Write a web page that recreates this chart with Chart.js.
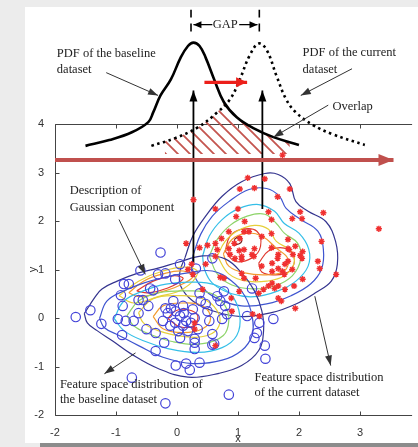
<!DOCTYPE html>
<html>
<head>
<meta charset="utf-8">
<script src="https://cdn.jsdelivr.net/npm/chart.js@4.4.1/dist/chart.umd.min.js"></script>
<style>
  html, body { margin: 0; padding: 0; background: #ececec; }
  #wrap { width: 418px; height: 447px; position: relative; }
</style>
</head>
<body>
<div id="wrap"><canvas id="chart"></canvas></div>
<script>
"use strict";

// axis ticks
const xTicks = [-2, -1, 0, 1, 2, 3];
const yTicks = [-2, -1, 0, 1, 2, 3, 4];

// samples of the baseline dataset (blue circles)
const baselinePoints = [
  [-1.66, 0.02], [-1.42, 0.16], [-1.24, -0.12], [-0.97, -0.02], [-0.90, -0.35], [-0.84, -0.06], [-0.87, 0.70], [-0.79, 0.70],
  [-0.92, 0.47], [-0.89, 0.25], [-0.63, 0.37], [-0.56, 0.37], [-0.63, 0.10], [-0.44, 0.61], [-0.39, 0.57], [-0.50, -0.23],
  [-0.35, -0.31], [-0.35, -0.68], [-0.21, -0.51], [-0.19, 0.20], [-0.10, 0.20], [-0.15, 0.10], [-0.02, -0.98], [0.21, -1.07],
  [0.37, -0.92], [-0.74, -1.23], [-0.19, -1.76], [0.29, -0.51], [0.29, -0.64], [-0.27, 1.35], [-0.60, 0.98], [-0.31, 0.90],
  [-0.19, 0.92], [-0.03, 0.80], [0.05, 1.11], [0.31, 1.02], [0.58, 1.23], [0.77, 0.55], [0.66, 0.45], [0.71, 0.35],
  [0.79, 0.25], [0.39, 0.35], [0.47, 0.29], [0.37, 0.51], [0.26, 0.18], [-0.02, 0.14], [0.05, 0.04], [-0.03, -0.10],
  [0.10, -0.16], [0.29, 0.00], [0.34, -0.23], [0.58, -0.33], [0.53, -0.06], [0.74, -0.02], [0.82, 0.08], [1.23, 0.61],
  [1.15, 0.04], [1.35, -0.10], [1.58, -0.02], [1.31, -0.31], [1.27, -0.41], [1.44, -0.57], [1.45, -0.84], [0.61, -0.53],
  [0.29, -0.43], [0.05, -0.41], [0.85, -1.58], [0.58, -0.55], [0.15, -0.94], [0.15, -0.06], [0.02, -0.27], [0.18, -0.27],
  [-0.06, 0.35], [0.10, 0.25], [-0.23, -0.06], [-0.11, -0.16], [0.23, -0.10], [0.11, 0.10], [0.50, 0.14], [-0.47, 0.25],
  [-0.71, -0.06]
];

// samples of the current dataset (red stars)
const currentPoints = [
  [0.27, 2.44], [1.16, 2.89], [1.44, 2.87], [1.03, 2.66], [1.27, 2.68], [1.65, 2.50], [1.85, 2.66], [0.63, 2.25],
  [1.00, 2.25], [1.50, 2.19], [1.55, 2.03], [0.97, 2.09], [1.11, 1.99], [0.85, 1.78], [1.10, 1.78], [1.18, 1.78],
  [1.03, 1.64], [1.39, 1.68], [1.55, 1.74], [1.82, 1.62], [0.15, 1.54], [0.37, 1.45], [0.50, 1.50], [0.63, 1.54],
  [0.66, 1.41], [0.63, 1.27], [0.85, 1.43], [1.02, 1.39], [1.10, 1.41], [0.94, 1.54], [1.27, 1.43], [1.55, 1.45],
  [1.66, 1.31], [1.82, 1.43], [1.23, 1.31], [1.06, 1.27], [1.73, 3.36], [2.02, 2.19], [2.40, 2.17], [1.89, 2.05],
  [2.05, 2.05], [3.31, 1.84], [2.37, 1.58], [0.73, 1.64], [1.26, 1.27], [1.56, 1.13], [1.65, 1.23], [2.05, 1.23],
  [2.31, 1.17], [1.77, 1.11], [1.73, 0.96], [1.56, 0.96], [2.34, 1.02], [2.61, 0.90], [2.06, 1.37], [1.94, 1.48],
  [1.84, 1.41], [1.90, 1.31], [2.02, 1.29], [1.82, 1.17], [1.89, 1.00], [2.06, 0.80], [1.92, 0.66], [1.94, 0.20],
  [1.24, 0.08], [1.66, 0.41], [1.77, 0.59], [1.66, 0.66], [1.42, 0.59], [1.50, 0.66], [1.56, 0.72], [1.10, 0.82],
  [1.29, 0.82], [1.02, 0.55], [0.89, 0.41], [0.77, 0.82], [0.71, 0.84], [1.06, 0.92], [0.42, 0.59], [0.47, 1.11],
  [0.26, 0.90], [0.18, 1.00], [0.87, 1.31], [0.95, 1.23], [1.06, 1.21], [1.39, 1.07], [1.66, 1.02], [1.76, 0.90],
  [1.60, 0.61], [1.71, 0.35], [1.34, 0.51], [1.35, 0.04], [0.90, 0.14], [0.29, -0.10], [0.29, -0.23], [0.24, 1.11],
  [0.63, -0.57]
];

// density contours of the baseline mixture, outer to inner
const baseNavy = [[-1.52, 0.09], [-1.35, 0.42], [-1.23, 0.60], [-0.98, 0.76], [-0.63, 0.93], [-0.31, 1.03], [0.02, 1.15], [0.42, 1.28], [0.79, 1.22], [1.06, 0.93], [1.27, 0.56], [1.39, 0.15], [1.42, -0.26], [1.34, -0.67], [1.06, -0.98], [0.69, -1.14], [0.18, -1.22], [-0.31, -1.04], [-0.74, -0.75], [-1.06, -0.47], [-1.31, -0.26], [-1.47, -0.10]];
const baseBlue = [[-1.27, -0.01], [-1.15, 0.35], [-0.87, 0.56], [-0.55, 0.72], [-0.23, 0.83], [0.18, 0.93], [0.58, 0.97], [0.90, 0.76], [1.11, 0.46], [1.23, 0.05], [1.23, -0.36], [1.06, -0.67], [0.74, -0.87], [0.26, -0.94], [-0.23, -0.81], [-0.63, -0.57], [-0.95, -0.36], [-1.19, -0.20]];
const baseCyan = [[-1.03, -0.01], [-0.87, 0.35], [-0.55, 0.56], [-0.18, 0.70], [0.26, 0.74], [0.63, 0.68], [0.90, 0.46], [1.03, 0.05], [0.98, -0.36], [0.74, -0.61], [0.34, -0.71], [-0.15, -0.63], [-0.55, -0.47], [-0.87, -0.26]];
const baseGreen = [[-0.82, 0.05], [-0.63, 0.35], [-0.31, 0.52], [0.18, 0.56], [0.58, 0.50], [0.79, 0.25], [0.85, -0.05], [0.76, -0.36], [0.42, -0.53], [-0.06, -0.49], [-0.47, -0.32], [-0.71, -0.16]];
const baseYellow = [[-0.63, 0.11], [-0.39, 0.40], [0.02, 0.46], [0.42, 0.40], [0.66, 0.15], [0.69, -0.16], [0.50, -0.36], [0.10, -0.38], [-0.31, -0.26], [-0.55, -0.10]];
const baseOrange = [[-0.39, 0.03], [-0.23, 0.25], [0.10, 0.31], [0.42, 0.25], [0.55, -0.01], [0.42, -0.22], [0.10, -0.30], [-0.23, -0.22]];
const baseRed = [[-0.15, -0.01], [-0.02, 0.15], [0.18, 0.17], [0.34, 0.05], [0.27, -0.16], [0.05, -0.18]];
const upperYellow = [[-0.95, 0.46], [-0.63, 0.76], [-0.23, 0.97], [0.18, 1.05], [0.34, 0.93], [0.10, 0.60], [-0.31, 0.44], [-0.71, 0.31]];
const upperOrange = [[-0.79, 0.52], [-0.55, 0.76], [-0.23, 0.91], [0.10, 0.97], [0.26, 0.85], [0.02, 0.66], [-0.31, 0.52], [-0.63, 0.44]];
const upperRed = [[-0.66, 0.56], [-0.39, 0.76], [-0.06, 0.87], [0.10, 0.81], [-0.15, 0.62], [-0.47, 0.52]];

// density contours of the current mixture, outer to inner
const curNavy = [[0.13, 1.24], [0.26, 1.69], [0.47, 2.10], [0.74, 2.51], [1.06, 2.81], [1.44, 2.98], [1.66, 2.96], [1.85, 2.77], [1.95, 2.40], [2.15, 2.20], [2.44, 1.99], [2.60, 1.58], [2.63, 1.11], [2.53, 0.76], [2.27, 0.52], [1.95, 0.29], [1.55, 0.11], [1.06, 0.03], [0.58, 0.15], [0.26, 0.35], [0.06, 0.66], [0.05, 0.97]];
const curBlue = [[0.26, 1.28], [0.39, 1.73], [0.58, 2.10], [0.85, 2.40], [1.18, 2.65], [1.47, 2.67], [1.68, 2.51], [1.79, 2.26], [2.03, 2.03], [2.31, 1.79], [2.40, 1.42], [2.37, 1.01], [2.19, 0.70], [1.87, 0.46], [1.47, 0.29], [1.06, 0.25], [0.66, 0.40], [0.39, 0.66], [0.26, 0.97]];
const curCyan = [[0.42, 1.28], [0.53, 1.69], [0.74, 2.03], [1.02, 2.26], [1.34, 2.34], [1.60, 2.20], [1.76, 1.95], [2.00, 1.75], [2.16, 1.42], [2.15, 1.07], [1.95, 0.76], [1.66, 0.56], [1.27, 0.44], [0.90, 0.50], [0.58, 0.72], [0.45, 1.01]];
const curGreen = [[0.53, 1.28], [0.66, 1.62], [0.87, 1.91], [1.15, 2.10], [1.44, 2.14], [1.63, 1.95], [1.76, 1.75], [1.98, 1.54], [2.03, 1.22], [1.89, 0.87], [1.60, 0.66], [1.24, 0.60], [0.90, 0.68], [0.66, 0.91]];
const curYellow = [[0.66, 1.28], [0.79, 1.58], [0.98, 1.79], [1.27, 1.91], [1.50, 1.83], [1.63, 1.58], [1.87, 1.38], [1.92, 1.13], [1.76, 0.87], [1.47, 0.76], [1.15, 0.76], [0.85, 0.91]];
const curOrange = [[0.76, 1.32], [0.90, 1.62], [1.15, 1.75], [1.39, 1.69], [1.63, 1.44], [1.82, 1.22], [1.76, 0.97], [1.47, 0.89], [1.11, 0.93], [0.85, 1.07]];
const curRedA = [[0.79, 1.38], [0.87, 1.69], [1.06, 1.83], [1.31, 1.79], [1.37, 1.48], [1.23, 1.24], [0.95, 1.17]];
const curRedB = [[1.34, 1.13], [1.50, 1.38], [1.76, 1.44], [1.92, 1.26], [1.85, 0.97], [1.60, 0.89], [1.39, 0.95]];
const curPeak = [[0.94, 1.62], [1.03, 1.69], [1.06, 1.58], [0.97, 1.52]];

// probability density curves drawn above the plot
const pdfBaseline = [[-1.50, 3.55], [-1.11, 3.67], [-0.74, 3.83], [-0.47, 4.04], [-0.39, 4.24], [-0.27, 4.59], [-0.10, 4.92], [0.06, 5.37], [0.18, 5.61], [0.27, 5.68], [0.37, 5.61], [0.47, 5.37], [0.61, 4.92], [0.77, 4.45], [0.98, 4.14], [1.26, 3.91], [1.58, 3.73], [2.00, 3.57]];
const pdfCurrent = [[-0.42, 3.55], [-0.03, 3.71], [0.34, 3.93], [0.66, 4.24], [0.87, 4.51], [1.03, 4.92], [1.19, 5.41], [1.34, 5.66], [1.47, 5.53], [1.63, 5.00], [1.79, 4.51], [1.95, 4.24], [2.23, 3.98], [2.55, 3.79], [3.08, 3.57]];
const overlapEdge = [[-0.20, 3.64], [-0.03, 3.71], [0.34, 3.93], [0.66, 4.24], [0.78, 4.42], [0.98, 4.14], [1.26, 3.91], [1.58, 3.73], [1.85, 3.63]];
const overlapBase = 3.38;

// arrows: [from, to]
const driftArrow = [[-2, 3.26], [3.55, 3.26]];
const shiftArrow = [[0.45, 4.86], [1.15, 4.86]];
const meanArrows = [[[0.27, 1.13], [0.27, 4.69]], [[1.40, 2.25], [1.40, 4.69]]];
const noteArrows = [
  [[-1.16, 5.06], [-0.31, 4.59]],
  [[2.87, 5.14], [2.03, 4.59]],
  [[2.48, 4.39], [1.58, 3.73]],
  [[-0.95, 2.03], [-0.52, 0.90]],
  [[-0.68, -0.72], [-1.19, -1.15]],
  [[2.26, 0.45], [2.52, -0.98]]
];
const gapArrows = [[[0.58, 6.05], [0.27, 6.05]], [[1.02, 6.05], [1.32, 6.05]]];
const gapBars = [[[0.23, 6.36], [0.23, 5.83]], [[1.35, 6.36], [1.35, 5.83]]];

// annotation texts: [text, x, y, align]
const notes = [
  ["PDF of the baseline", -1.97, 5.44, "left"],
  ["dataset", -1.97, 5.11, "left"],
  ["PDF of the current", 2.06, 5.48, "left"],
  ["dataset", 2.06, 5.13, "left"],
  ["Overlap", 2.55, 4.35, "left"],
  ["GAP", 0.79, 6.05, "center"],
  ["Description of", -1.76, 2.63, "left"],
  ["Gaussian component", -1.76, 2.28, "left"],
  ["Feature space distribution of", -1.92, -1.37, "left"],
  ["the baseline dataset", -1.92, -1.69, "left"],
  ["Feature space distribution", 1.27, -1.24, "left"],
  ["of the current dataset", 1.27, -1.55, "left"]
];

const toXY = (pts) => pts.map((p) => ({ x: p[0], y: p[1] }));
const closed = (pts) => toXY(pts.concat([pts[0]]));

// diagonal red hatching for the overlap area
function makeHatch() {
  const c = document.createElement("canvas");
  c.width = 12;
  c.height = 12;
  const g = c.getContext("2d");
  g.strokeStyle = "#c4554f";
  g.lineWidth = 1.8;
  g.beginPath();
  g.moveTo(-2, -2); g.lineTo(14, 14);
  g.moveTo(-2, 10); g.lineTo(2, 14);
  g.moveTo(10, -2); g.lineTo(14, 2);
  g.stroke();
  return g.createPattern(c, "repeat");
}

const datasets = [];

function contour(pts, color) {
  datasets.push({
    data: closed(pts), showLine: true, pointRadius: 0, borderColor: color,
    borderWidth: 1.2, tension: 0.4, order: 8
  });
}

function arrow(pts, color, width, head, extra) {
  datasets.push(Object.assign({
    data: toXY(pts), showLine: true, pointRadius: 0, borderColor: color,
    borderWidth: width, head: head, order: 3
  }, extra || {}));
}

// scatter samples
datasets.push({
  data: toXY(baselinePoints), pointStyle: "circle", pointRadius: 4.7,
  borderColor: "#4444d8", backgroundColor: "rgba(0,0,0,0)", pointBorderWidth: 1.2, order: 1
});
datasets.push({
  data: toXY(currentPoints), pointStyle: "star", pointRadius: 3.1,
  borderColor: "#f03030", backgroundColor: "#f03030", pointBorderWidth: 1.4, order: 0
});

// contours
const navy = "#35358f", blue = "#3f55d0", cyan = "#35bfe8", green = "#8ed46a",
  yellow = "#e6cf3a", orange = "#f29a30", red = "#e03a30", darkRed = "#7a1d1d";
[baseNavy, baseBlue, baseCyan, baseGreen, baseYellow, baseOrange, baseRed].forEach((c, i) =>
  contour(c, [navy, blue, cyan, green, yellow, orange, red][i]));
contour(upperYellow, yellow);
contour(upperOrange, orange);
contour(upperRed, red);
[curNavy, curBlue, curCyan, curGreen, curYellow, curOrange, curRedA, curRedB, curPeak].forEach((c, i) =>
  contour(c, [navy, blue, cyan, green, yellow, orange, red, red, darkRed][i]));

// overlap hatch and pdf curves
datasets.push({
  data: toXY(overlapEdge), showLine: true, pointRadius: 0, borderWidth: 0,
  borderColor: "rgba(0,0,0,0)", backgroundColor: makeHatch(),
  fill: { value: overlapBase }, tension: 0.3, order: 9
});
datasets.push({
  data: toXY(pdfBaseline), showLine: true, pointRadius: 0, borderColor: "#000",
  borderWidth: 2.6, tension: 0.4, order: 4
});
datasets.push({
  data: toXY(pdfCurrent), showLine: true, pointRadius: 0, borderColor: "#000",
  borderWidth: 2.6, borderDash: [2.5, 3.5], tension: 0.4, order: 4
});

// arrows
arrow(driftArrow, "#c0504d", 4, [15, 12]);
arrow(shiftArrow, "#ec1f1a", 3.2, [11, 10]);
meanArrows.forEach((a) => arrow(a, "#000", 1.8, [11, 8]));
noteArrows.forEach((a) => arrow(a, "#333", 1, [10, 7]));
gapArrows.forEach((a) => arrow(a, "#000", 1.2, [8, 7]));
gapBars.forEach((a) => arrow(a, "#000", 1.6, null, { borderDash: [8, 6] }));

const backdrop = {
  id: "backdrop",
  beforeDraw(chart) {
    const ctx = chart.ctx;
    ctx.save();
    ctx.fillStyle = "#ececec";
    ctx.fillRect(0, 0, chart.width, chart.height);
    ctx.fillStyle = "#ffffff";
    ctx.fillRect(25, 7, chart.width - 25, 436);
    ctx.fillStyle = "#8c8c8c";
    ctx.fillRect(40, 443, chart.width - 40, 4);
    ctx.restore();
  }
};

const frame = {
  id: "frame",
  beforeDatasetsDraw(chart) {
    const ctx = chart.ctx;
    const xs = chart.scales.x, ys = chart.scales.y;
    const left = Math.round(xs.getPixelForValue(-2)) + 0.5;
    const top = Math.round(ys.getPixelForValue(4)) + 0.5;
    const bottom = Math.round(ys.getPixelForValue(-2)) + 0.5;
    const right = chart.chartArea.right;
    ctx.save();
    ctx.strokeStyle = "#444";
    ctx.lineWidth = 1;
    ctx.beginPath();
    ctx.moveTo(right, top); ctx.lineTo(left, top); ctx.lineTo(left, bottom); ctx.lineTo(right, bottom);
    xTicks.forEach((v) => {
      const px = Math.round(xs.getPixelForValue(v)) + 0.5;
      ctx.moveTo(px, bottom); ctx.lineTo(px, bottom - 4);
      ctx.moveTo(px, top); ctx.lineTo(px, top + 4);
    });
    yTicks.forEach((v) => {
      const py = Math.round(ys.getPixelForValue(v)) + 0.5;
      ctx.moveTo(left, py); ctx.lineTo(left + 4, py);
    });
    ctx.stroke();
    ctx.restore();
  }
};

const heads = {
  id: "heads",
  afterDatasetsDraw(chart) {
    const ctx = chart.ctx;
    chart.data.datasets.forEach((ds, i) => {
      if (!ds.head) return;
      const pts = chart.getDatasetMeta(i).data;
      const a = pts[pts.length - 2], b = pts[pts.length - 1];
      const ang = Math.atan2(b.y - a.y, b.x - a.x);
      ctx.save();
      ctx.translate(b.x, b.y);
      ctx.rotate(ang);
      ctx.fillStyle = ds.borderColor;
      ctx.beginPath();
      ctx.moveTo(0, 0);
      ctx.lineTo(-ds.head[0], -ds.head[1] / 2);
      ctx.lineTo(-ds.head[0], ds.head[1] / 2);
      ctx.closePath();
      ctx.fill();
      ctx.restore();
    });
  }
};

const labels = {
  id: "labels",
  afterDraw(chart) {
    const ctx = chart.ctx;
    const xs = chart.scales.x, ys = chart.scales.y;
    ctx.save();
    ctx.fillStyle = "#222";
    ctx.font = "12.5px 'Liberation Serif', 'DejaVu Serif', serif";
    ctx.textBaseline = "middle";
    notes.forEach((n) => {
      ctx.textAlign = n[3];
      ctx.fillText(n[0], xs.getPixelForValue(n[1]), ys.getPixelForValue(n[2]));
    });
    // axis titles
    ctx.fillStyle = "#333";
    ctx.font = "11px 'Liberation Sans', Arial, sans-serif";
    ctx.textAlign = "center";
    ctx.fillText("x", xs.getPixelForValue(1), 439);
    ctx.translate(33, ys.getPixelForValue(1));
    ctx.rotate(-Math.PI / 2);
    ctx.fillText("y", 0, 0);
    ctx.restore();
  }
};

Chart.defaults.font.family = "'Liberation Sans', Arial, sans-serif";

new Chart(document.getElementById("chart").getContext("2d"), {
  type: "scatter",
  data: { datasets: datasets },
  options: {
    responsive: true,
    maintainAspectRatio: false,
    animation: false,
    layout: { padding: { top: 7, right: 0, left: 0, bottom: 0 } },
    plugins: { legend: { display: false }, tooltip: { enabled: false } },
    scales: {
      x: {
        type: "linear", min: -2, max: 3.855,
        grid: { display: false }, border: { display: false },
        ticks: { padding: 3, color: "#333", font: { size: 11 } },
        afterBuildTicks: (s) => { s.ticks = xTicks.map((v) => ({ value: v })); },
        afterFit: (s) => { s.height = 32; }
      },
      y: {
        type: "linear", min: -2, max: 6.36,
        grid: { display: false }, border: { display: false },
        ticks: { padding: 3, color: "#333", font: { size: 11 } },
        afterBuildTicks: (s) => { s.ticks = yTicks.map((v) => ({ value: v })); },
        afterFit: (s) => { s.width = 55; }
      }
    }
  },
  plugins: [backdrop, frame, heads, labels]
});
</script>
</body>
</html>
